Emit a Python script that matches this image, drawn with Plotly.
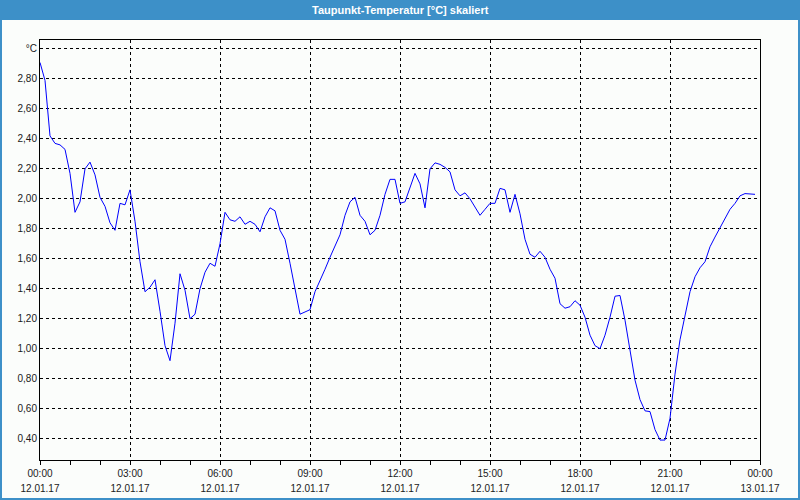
import plotly.graph_objects as go
import pandas as pd

# Sample times: every 10 minutes on 12.01.17
start_time = "2017-01-12 00:00"
times = pd.date_range(start_time, periods=144, freq="10min")

# Dew point temperature [°C]
dewpoint = [
    2.91, 2.79, 2.42, 2.37, 2.36, 2.33, 2.17, 1.91, 1.98, 2.20,
    2.245, 2.16, 2.01, 1.95, 1.84, 1.79, 1.97, 1.96, 2.06, 1.85,
    1.58, 1.38, 1.41, 1.46, 1.25, 1.02, 0.92, 1.17, 1.50, 1.39,
    1.20, 1.23, 1.40, 1.51, 1.57, 1.55, 1.70, 1.91, 1.86, 1.85,
    1.88, 1.83, 1.85, 1.83, 1.78, 1.88, 1.94, 1.92, 1.79, 1.73,
    1.57, 1.39, 1.23, 1.245, 1.26, 1.38, 1.45, 1.53, 1.61, 1.69,
    1.76, 1.89, 1.98, 2.01, 1.89, 1.85, 1.76, 1.79, 1.89, 2.03,
    2.13, 2.13, 1.97, 1.98, 2.08, 2.17, 2.10, 1.94, 2.20, 2.24,
    2.23, 2.21, 2.18, 2.06, 2.02, 2.04, 2.00, 1.945, 1.89, 1.93,
    1.97, 1.97, 2.07, 2.06, 1.91, 2.03, 1.90, 1.73, 1.63, 1.61,
    1.65, 1.61, 1.53, 1.47, 1.30, 1.27, 1.28, 1.32, 1.29, 1.21,
    1.09, 1.02, 1.00, 1.09, 1.21, 1.35, 1.355, 1.19, 0.99, 0.79,
    0.66, 0.585, 0.58, 0.46, 0.39, 0.39, 0.535, 0.83, 1.06, 1.23,
    1.38, 1.48, 1.54, 1.58, 1.68, 1.745, 1.81, 1.87, 1.93, 1.97,
    2.02, 2.035, 2.035, 2.03,
]

y_tickvals = [0.4, 0.6, 0.8, 1.0, 1.2, 1.4, 1.6, 1.8, 2.0, 2.2, 2.4, 2.6, 2.8, 3.0]
y_ticktext = ["0,40", "0,60", "0,80", "1,00", "1,20", "1,40", "1,60", "1,80",
              "2,00", "2,20", "2,40", "2,60", "2,80", "°C"]

title_text = "Taupunkt-Temperatur [°C] skaliert"
x_range = ["2017-01-12 00:00", "2017-01-13 00:00"]
y_range = [0.257, 3.06]

BLUE = "#3d90c8"
BG = "#fbfdfb"
FONT = "Liberation Sans"
TXT = "#1a1a1a"

fig = go.Figure()
fig.add_trace(go.Scatter(
    x=times, y=dewpoint, mode="lines",
    line=dict(color="#0000ff", width=1),
    hoverinfo="x+y", showlegend=False,
))
# invisible helper trace so the date axis (second label row) is drawn
fig.add_trace(go.Scatter(
    x=[x_range[0]], y=[None], xaxis="x2", yaxis="y",
    mode="lines", showlegend=False, hoverinfo="skip",
))

W, H = 800, 500
L, R, T, B = 40, 40, 40, 40
pw, ph = W - L - R, H - T - B

def px_x(x):
    return (x - L) / pw

def px_y(y):
    return (H - B - y) / ph

shapes = [
    dict(type="rect", xref="paper", yref="paper",
         x0=px_x(0), x1=px_x(W), y0=px_y(20), y1=px_y(0),
         fillcolor=BLUE, line=dict(width=0), layer="above"),
    dict(type="line", xref="paper", yref="paper",
         x0=px_x(1), x1=px_x(1), y0=px_y(0), y1=px_y(H),
         line=dict(color=BLUE, width=2)),
    dict(type="line", xref="paper", yref="paper",
         x0=px_x(W - 1), x1=px_x(W - 1), y0=px_y(0), y1=px_y(H),
         line=dict(color=BLUE, width=2)),
    dict(type="line", xref="paper", yref="paper",
         x0=px_x(0), x1=px_x(W), y0=px_y(H - 1), y1=px_y(H - 1),
         line=dict(color=BLUE, width=2)),
]

common_x = dict(
    type="date", range=x_range,
    tick0="2017-01-12 00:00", dtick=3 * 3600 * 1000,
)

fig.update_layout(
    width=W, height=H,
    margin=dict(l=L, r=R, t=T, b=B, autoexpand=False),
    paper_bgcolor=BG, plot_bgcolor=BG,
    font=dict(family=FONT, size=10, color=TXT),
    shapes=shapes,
    annotations=[dict(
        text="<b>" + title_text + "</b>", xref="paper", yref="paper",
        x=px_x(W / 2), y=px_y(10), xanchor="center", yanchor="middle",
        showarrow=False, font=dict(family=FONT, size=11, color="white"),
    )],
    xaxis=dict(
        **common_x,
        tickformat="%H:%M",
        ticks="outside", ticklen=4, tickcolor="black", tickwidth=1,
        ticklabelstandoff=0,
        showgrid=True, gridcolor="black", gridwidth=1, griddash="3px,3px",
        showline=True, linecolor="black", linewidth=1, mirror=True,
        zeroline=False,
        minor=dict(dtick=3600 * 1000, ticks="outside", ticklen=4,
                   tickcolor="black", showgrid=False),
        tickfont=dict(family=FONT, size=10, color=TXT),
    ),
    xaxis2=dict(
        **common_x,
        overlaying="x", anchor="y", side="bottom",
        tickformat="%d.%m.%y",
        ticks="", ticklabelstandoff=21,
        showgrid=False, showline=False, zeroline=False,
        tickfont=dict(family=FONT, size=10, color=TXT),
    ),
    yaxis=dict(
        range=y_range, tickvals=y_tickvals, ticktext=y_ticktext,
        ticks="", showgrid=True, gridcolor="black", gridwidth=1,
        griddash="3px,3px",
        showline=True, linecolor="black", linewidth=1, mirror=True,
        zeroline=False,
        tickfont=dict(family=FONT, size=10, color=TXT),
    ),
)

fig.write_html(
    "out.html",
    config={"displayModeBar": False},
    post_script="document.body.style.margin='0';document.body.style.overflow='hidden';",
)
